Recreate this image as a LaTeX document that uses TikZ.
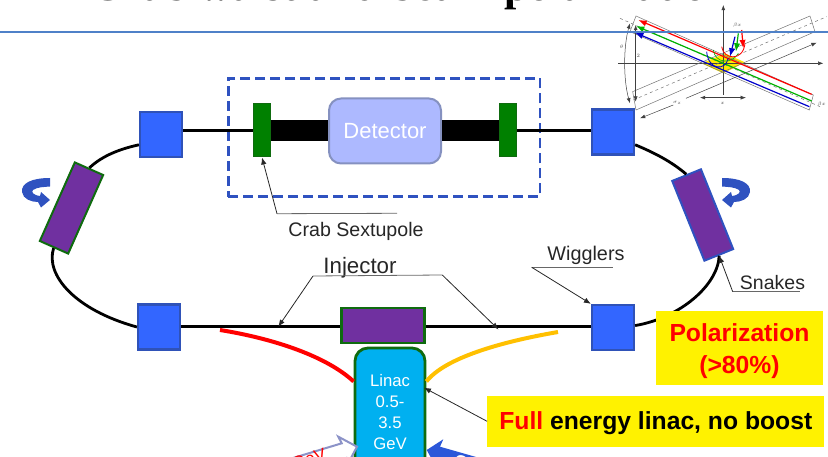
\documentclass[tikz,border=0pt]{standalone}
\usepackage{fontspec}
\setmainfont{Liberation Sans}
\newfontfamily\titlefont{Liberation Serif}
\usetikzlibrary{arrows.meta,positioning,calc}
\definecolor{wig}{HTML}{3366FF}
\definecolor{wigline}{HTML}{2F52B8}
\definecolor{snake}{HTML}{7030A0}
\definecolor{crab}{HTML}{008000}
\definecolor{crabline}{HTML}{0F6B0F}
\definecolor{detfill}{HTML}{ADB9FF}
\definecolor{detline}{HTML}{8591C0}
\definecolor{dashline}{HTML}{2F52C0}
\definecolor{linacfill}{HTML}{00B0F0}
\definecolor{rule}{HTML}{4F81C8}
\definecolor{orng}{HTML}{FFC000}
\definecolor{lav}{HTML}{8C93C8}
\definecolor{lead}{HTML}{262626}
\newcommand{\fs}[1]{\fontsize{#1}{#1}\selectfont}
\begin{document}
\begin{tikzpicture}[>=Latex,x=1pt,y=-1pt,
 w/.style={draw=wigline,fill=wig,line width=2.2pt,minimum width=42pt,minimum height=45pt,inner sep=0pt},
 s/.style={fill=snake,line width=2pt,minimum width=31pt,minimum height=86pt,inner sep=0pt},
 c/.style={draw=crabline,fill=crab,line width=1pt,minimum width=16.5pt,minimum height=53pt,inner sep=0pt},
 t/.style={inner sep=0pt,text=black!85},
 r/.style={draw=black,line width=2.8pt},
 a/.style={->,draw=lead,line width=.8pt,>={Latex[length=7pt,width=5.5pt]}},
 l/.style={draw=lead!70,line width=.8pt},
 hl/.style={fill=yellow,inner sep=0pt,font=\bfseries\fs{24.7},align=center},
 rot/.style={fill=dashline},
 g/.style={draw=black!55,line width=.5pt},
 k/.style={draw=black!75,line width=.5pt}]
\clip (0,0) rectangle (828,457);
\node[anchor=base east,font=\titlefont\bfseries\fs{44}] (title) at (735,.8) {Crab waist and beam polarization};
% inset
\begin{scope}[shift={(600,0)},x=.3333pt,y=-.3333pt]
\fill[yellow!90!orange] (305,190) -- (375,160) -- (435,187) -- (370,220) -- cycle;
\draw[k,->] (55,190) -- (670,190);
\draw[k,->] (370,285) -- (370,15);
\draw[g,dashed] (60,55) -- (660,320);
\draw[g,dashed] (100,300) -- (680,50);
\draw[g] (108,48) -- (640,285) -- (628,330) -- (90,95) -- cycle;
\draw[g] (98,275) -- (630,48) -- (645,95) -- (108,330) -- cycle;
\draw[red,line width=1.2pt,->] (635,283) -- (115,60);
\draw[green!70!black,line width=1.2pt,->] (635,303) -- (108,78);
\draw[blue!80!black,line width=1.2pt,->] (628,320) -- (105,98);
\draw[k,<->] (107,75) -- (107,305);
\draw[k,<->] (90,70) .. controls (70,140) and (70,240) .. (90,310);
\draw[k,->] (258,295) -- (650,128);
\draw[k,<->] (300,293) -- (438,293);
\draw[k,->] (220,315) -- (120,355);
\draw[blue!80!black,line width=.8pt] (320,155) .. controls (325,210) and (375,215) .. (385,175);
\draw[green!70!black,line width=.6pt] (340,150) .. controls (345,190) and (395,195) .. (415,160);
\draw[red,line width=.8pt] (365,140) .. controls (370,180) and (430,185) .. (435,130);
\draw[red,line width=1.2pt,->] (425,90) -- (430,145);
\draw[green!70!black,line width=1.2pt,->] (415,100) -- (408,155);
\draw[blue!80!black,line width=1.2pt,->] (405,110) -- (390,170);
\node[font=\fs{4},text=black!70] (lbeta) at (412,75) {$\beta x$};
\node[font=\fs{4},text=black!70] (ltheta) at (65,140) {$\theta$};
\node[font=\fs{4},text=black!70] (ltwo) at (115,168) {$2$};
\node[font=\fs{4},text=black!70] (lsig) at (665,313) {$\beta x$};
\node[font=\fs{4},text=black!70] (ldist) at (232,308) {$\sigma_z$};
\node[font=\fs{4},text=black!70] (lx) at (368,310) {$x$};
\end{scope}
\draw[rule,line width=2pt] (0,32.3) coordinate (ruleL) -- (828,32.3) coordinate (ruleR);
% ring
\node[w] (wigA) at (161,134.5) {};
\node[w] (wigB) at (613,132) {};
\node[w] (wigC) at (159,327) {};
\node[w] (wigD) at (613,327.5) {};
\node[s,draw=crabline,rotate=-24] (snakeL) at (71.5,208) {};
\node[s,draw=dashline,rotate=22] (snakeR) at (702.7,215) {};
\node[c] (crabL) at (262,130.5) {};
\node[c] (crabR) at (508,130.5) {};
\node[draw=detline,fill=detfill,line width=2pt,rounded corners=12pt,minimum width=112pt,minimum height=65pt,text=white,font=\fs{22}] (det) at (385,131) {Detector};
\node[draw=dashline,line width=2.8pt,dash pattern=on 10pt off 5pt,minimum width=311.7pt,minimum height=118.4pt] (ipbox) at (384.2,137.5) {};
\node[draw=crabline,fill=snake,line width=2.5pt,minimum width=83pt,minimum height=35pt,inner sep=0pt] (inj) at (383,325.5) {};
\node[draw=crabline,fill=linacfill,line width=2.8pt,rounded corners=13pt,minimum width=70pt,minimum height=128pt,inner sep=0pt,text=white,align=center,font=\fs{16.7}] (linac) at (390,412) {Linac\\[4.5pt]0.5-\\[4.5pt]3.5\\[4.5pt]GeV};
\draw[r] (wigA.205) .. controls (115,150) and (100,158) .. (snakeL.north);
\draw[r] (snakeL.south) .. controls (45,275) and (75,310) .. (wigC.west);
\draw[r] (wigB.-30) .. controls (655,153) and (672,162) .. (snakeR.north);
\draw[r] (snakeR.south) .. controls (718,285) and (680,318) .. (wigD.5);
\draw[r] (crabL.west -| wigA.east) -- (crabL.west);
\draw[r] (crabR.east) -- (crabR.east -| wigB.west);
\draw[draw=black,line width=21pt] (crabL.east) -- (crabL.east -| det.west);
\draw[draw=black,line width=21pt] (crabR.west) -- (crabR.west -| det.east);
\draw[draw=black,line width=3pt] (wigC.east) -- (wigC.east -| inj.west);
\draw[draw=black,line width=3pt] (wigC.east -| inj.east) -- (wigC.east -| wigD.west);
\coordinate (redA) at (220,330);
\coordinate (orngA) at (558,332);
\draw[red,line width=4pt] (redA) .. controls (270,338) and (325,355) .. (linac.140);
\draw[orng,line width=4pt] (orngA) .. controls (500,342) and (445,358) .. (linac.40);
% rotation arrows
\fill[rot] (50,178) .. controls (32,178) and (21,183) .. (22,192) .. controls (23,199) and (31,202) .. (38,202) -- (41,207.5) -- (50,200) -- (41,192) -- (40,196) .. controls (33,195) and (31,192) .. (33,190) .. controls (37,187) and (44,187) .. (50,186.5) -- cycle;
\fill[rot] (722,178) .. controls (740,178) and (751,183) .. (750,192) .. controls (749,199) and (741,202) .. (734,202) -- (731,207.5) -- (722,200) -- (731,192) -- (732,196) .. controls (739,195) and (741,192) .. (739,190) .. controls (735,187) and (728,187) .. (722,186.5) -- cycle;
% labels
\node[t,font=\fs{19.6}] (crabtxt) at (356,231) {Crab Sextupole};
\node[t,font=\fs{22.3}] (injtxt) at (360,268) {Injector};
\node[t,font=\fs{19.8}] (wigtxt) at (586,255) {Wigglers};
\node[t,font=\fs{19.5}] (snaketxt) at (772.5,282.3) {Snakes};
\coordinate (crabE) at (277,213.7);
\coordinate (crabT) at (397,213.3);
\draw[l] (crabT) -- (crabE);
\draw[a] (crabE) -- (crabL.south);
\coordinate (injE) at (313,276);
\coordinate (injF) at (442.3,275);
\coordinate (injP) at (278.3,326.7);
\coordinate (injQ) at (498.5,329.5);
\draw[l] (injE) -- (injF);
\draw[a] (injE) -- (injP);
\draw[a] (injF) -- (injQ);
\coordinate (wigE) at (531.7,267.3);
\coordinate (wigT) at (612.7,267.3);
\draw[l] (wigE) -- (wigT);
\draw[a] (wigE) -- (wigD.north west);
\coordinate (snakeE) at (732.7,291.7);
\coordinate (snakeT) at (800,291.7);
\draw[l] (snakeE) -- (snakeT);
\draw[a] (snakeE) -- (snakeR.south);
% beams in
\filldraw[draw=lav,fill=white,line width=2pt] (357,446.7) -- (338.3,436.7) -- (341.7,443.3) -- (270,465) -- (270,480) -- (346.2,458) -- (347,465.4) -- cycle;
\node[font=\fs{17},text=red,rotate=17,inner sep=0pt] (eL) at (309,459) {GeV};
\fill[wig!85!black] (426.7,450) -- (443.3,439.3) -- (440,446.7) -- (490,461) -- (490,476) -- (437,461.3) -- (436.9,468.6) -- cycle;
\node[font=\bfseries\fs{17},text=white,rotate=-16,inner sep=0pt] (eR) at (471,465) {GeV};
% boxes
\node[hl,text=red,minimum width=167.6pt,minimum height=74.6pt] (pol) at (739.5,348) {\rule{0pt}{24pt}Polarization\\[7pt](>80\%)};
\node[hl,minimum width=337pt,minimum height=51.3pt] (full) at (655.8,421.3) {\rule{0pt}{22pt}\textcolor{red}{Full} energy linac, no boost};
\coordinate (linacin) at (424,387.7);
\draw[a] (full.west) -- (linacin);
\end{tikzpicture}
\end{document}
